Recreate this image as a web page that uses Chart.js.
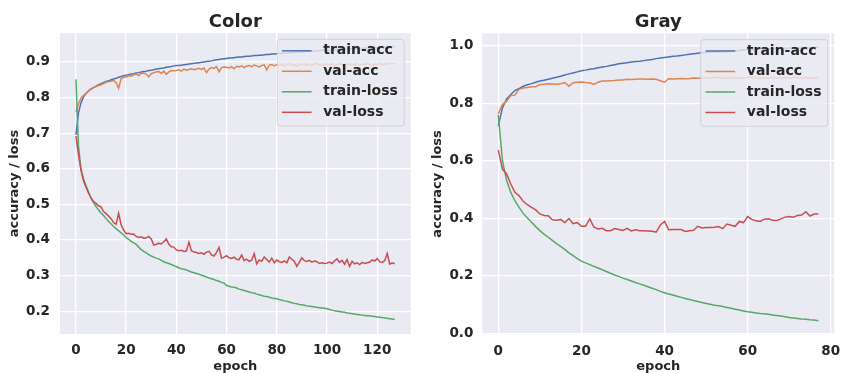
<!DOCTYPE html>
<html>
<head>
<meta charset="utf-8">
<script src="https://cdn.jsdelivr.net/npm/chart.js@4.4.1/dist/chart.umd.min.js"></script>
<style>
  body { margin: 0; background: #fff; }
  canvas { position: absolute; top: 0; }
</style>
</head>
<body>
<canvas id="colorChart" width="420" height="373" style="left:0px"></canvas>
<canvas id="grayChart" width="423" height="373" style="left:420px"></canvas>
<script>
// series names
const seriesNames = ["train-acc", "val-acc", "train-loss", "val-loss"];

// Color run, epochs 0..127
const colorTrainAcc = [
  0.695, 0.757, 0.785, 0.802, 0.811, 0.819, 0.824, 0.828, 0.832, 0.836,
  0.839, 0.842, 0.845, 0.847, 0.850, 0.852, 0.854, 0.857, 0.859, 0.861,
  0.863, 0.864, 0.866, 0.867, 0.869, 0.870, 0.872, 0.873, 0.874, 0.876,
  0.877, 0.878, 0.880, 0.881, 0.882, 0.883, 0.885, 0.886, 0.887, 0.889,
  0.890, 0.890, 0.891, 0.892, 0.893, 0.894, 0.895, 0.896, 0.897, 0.898,
  0.899, 0.900, 0.901, 0.902, 0.903, 0.905, 0.906, 0.907, 0.908, 0.909,
  0.910, 0.911, 0.911, 0.912, 0.913, 0.914, 0.914, 0.915, 0.916, 0.916,
  0.917, 0.918, 0.918, 0.919, 0.919, 0.920, 0.921, 0.921, 0.922, 0.922,
  0.923, 0.924, 0.924, 0.925, 0.925, 0.926, 0.926, 0.927, 0.927, 0.928,
  0.928, 0.929, 0.929, 0.930, 0.930, 0.931, 0.931, 0.932, 0.932, 0.933,
  0.933, 0.933, 0.934, 0.934, 0.935, 0.935, 0.935, 0.936, 0.936, 0.937,
  0.937, 0.937, 0.938, 0.938, 0.938, 0.939, 0.939, 0.939, 0.940, 0.940,
  0.940, 0.941, 0.941, 0.942, 0.942, 0.943, 0.943, 0.944
];
const colorValAcc = [
  0.760, 0.782, 0.798, 0.806, 0.812, 0.818, 0.824, 0.828, 0.831, 0.834,
  0.836, 0.839, 0.843, 0.845, 0.846, 0.848, 0.842, 0.826, 0.853, 0.857,
  0.858, 0.861, 0.860, 0.864, 0.866, 0.862, 0.868, 0.869, 0.866, 0.858,
  0.867, 0.870, 0.872, 0.873, 0.868, 0.874, 0.865, 0.872, 0.876, 0.875,
  0.876, 0.878, 0.874, 0.880, 0.877, 0.879, 0.881, 0.878, 0.880, 0.882,
  0.879, 0.883, 0.870, 0.880, 0.884, 0.882, 0.887, 0.872, 0.884, 0.886,
  0.885, 0.883, 0.887, 0.881, 0.888, 0.886, 0.889, 0.884, 0.888, 0.890,
  0.887, 0.891, 0.889, 0.886, 0.890, 0.892, 0.878, 0.891, 0.893, 0.889,
  0.893, 0.891, 0.894, 0.889, 0.892, 0.895, 0.890, 0.893, 0.888, 0.894,
  0.892, 0.895, 0.890, 0.893, 0.891, 0.894, 0.896, 0.891, 0.893, 0.890,
  0.894, 0.892, 0.895, 0.889, 0.893, 0.896, 0.891, 0.894, 0.892, 0.895,
  0.890, 0.893, 0.895, 0.891, 0.894, 0.892, 0.896, 0.893, 0.890, 0.894,
  0.893, 0.896, 0.892, 0.895, 0.893, 0.897, 0.894, 0.896
];
const colorTrainLoss = [
  0.851, 0.665, 0.600, 0.572, 0.553, 0.535, 0.518, 0.505, 0.494, 0.484,
  0.476, 0.469, 0.460, 0.452, 0.445, 0.438, 0.432, 0.426, 0.420, 0.414,
  0.407, 0.402, 0.396, 0.392, 0.388, 0.380, 0.373, 0.368, 0.364, 0.359,
  0.355, 0.352, 0.349, 0.347, 0.343, 0.339, 0.336, 0.334, 0.331, 0.328,
  0.325, 0.322, 0.319, 0.318, 0.316, 0.313, 0.310, 0.308, 0.306, 0.304,
  0.301, 0.299, 0.296, 0.293, 0.291, 0.289, 0.286, 0.284, 0.281, 0.279,
  0.272, 0.270, 0.268, 0.267, 0.265, 0.262, 0.260, 0.258, 0.256, 0.254,
  0.252, 0.251, 0.248, 0.246, 0.244, 0.242, 0.241, 0.239, 0.237, 0.236,
  0.235, 0.233, 0.231, 0.229, 0.228, 0.226, 0.224, 0.222, 0.221, 0.219,
  0.218, 0.217, 0.215, 0.214, 0.213, 0.212, 0.211, 0.210, 0.209, 0.208,
  0.207, 0.205, 0.203, 0.201, 0.200, 0.199, 0.198, 0.197, 0.195, 0.194,
  0.193, 0.192, 0.191, 0.190, 0.189, 0.188, 0.187, 0.187, 0.186, 0.185,
  0.184, 0.183, 0.182, 0.181, 0.180, 0.179, 0.178, 0.177
];
const colorValLoss = [
  0.692, 0.640, 0.596, 0.566, 0.548, 0.532, 0.518, 0.508, 0.503, 0.496,
  0.493, 0.480, 0.474, 0.467, 0.460, 0.449, 0.444, 0.475, 0.443, 0.428,
  0.418, 0.419, 0.416, 0.417, 0.410, 0.407, 0.409, 0.405, 0.406, 0.410,
  0.403, 0.386, 0.388, 0.391, 0.389, 0.395, 0.403, 0.388, 0.381, 0.380,
  0.372, 0.370, 0.371, 0.368, 0.369, 0.394, 0.370, 0.366, 0.365, 0.362,
  0.364, 0.360, 0.366, 0.368, 0.358, 0.355, 0.365, 0.379, 0.349, 0.352,
  0.356, 0.350, 0.348, 0.352, 0.346, 0.345, 0.358, 0.342, 0.346, 0.340,
  0.343, 0.362, 0.333, 0.344, 0.340, 0.352, 0.345, 0.338, 0.349, 0.336,
  0.344, 0.339, 0.337, 0.341, 0.336, 0.352, 0.346, 0.340, 0.326, 0.338,
  0.350, 0.342, 0.340, 0.343, 0.338, 0.341, 0.339, 0.334, 0.336, 0.334,
  0.335, 0.338, 0.334, 0.341, 0.347, 0.337, 0.343, 0.332, 0.345, 0.326,
  0.340, 0.333, 0.336, 0.331, 0.337, 0.334, 0.336, 0.338, 0.344, 0.341,
  0.348, 0.339, 0.337, 0.342, 0.362, 0.332, 0.336, 0.333
];

// Gray run, epochs 0..77
const grayTrainAcc = [
  0.721, 0.784, 0.815, 0.830, 0.844, 0.851, 0.859, 0.864, 0.868, 0.873,
  0.877, 0.880, 0.883, 0.887, 0.890, 0.894, 0.898, 0.902, 0.905, 0.909,
  0.913, 0.915, 0.918, 0.920, 0.923, 0.926, 0.928, 0.931, 0.934, 0.937,
  0.939, 0.941, 0.943, 0.945, 0.946, 0.948, 0.950, 0.952, 0.955, 0.957,
  0.959, 0.961, 0.963, 0.964, 0.966, 0.968, 0.970, 0.972, 0.974, 0.975,
  0.976, 0.977, 0.978, 0.978, 0.979, 0.979, 0.981, 0.982, 0.983, 0.985,
  0.986, 0.986, 0.987, 0.988, 0.988, 0.989, 0.989, 0.990, 0.990, 0.991,
  0.991, 0.992, 0.992, 0.993, 0.993, 0.994, 0.994, 0.995
];
const grayValAcc = [
  0.763, 0.796, 0.807, 0.827, 0.828, 0.848, 0.853, 0.855, 0.857, 0.857,
  0.865, 0.866, 0.868, 0.867, 0.866, 0.868, 0.872, 0.859, 0.871, 0.873,
  0.874, 0.872, 0.871, 0.865, 0.873, 0.877, 0.877, 0.878, 0.879, 0.881,
  0.881, 0.883, 0.882, 0.883, 0.884, 0.884, 0.883, 0.884, 0.883, 0.878,
  0.873, 0.885, 0.884, 0.885, 0.886, 0.885, 0.886, 0.888, 0.887, 0.888,
  0.888, 0.887, 0.889, 0.890, 0.888, 0.887, 0.889, 0.888, 0.887, 0.888,
  0.889, 0.891, 0.888, 0.886, 0.889, 0.887, 0.890, 0.888, 0.887, 0.889,
  0.888, 0.890, 0.889, 0.887, 0.889, 0.888, 0.887, 0.890
];
const grayTrainLoss = [
  0.759, 0.600, 0.531, 0.490, 0.461, 0.438, 0.417, 0.401, 0.386, 0.371,
  0.357, 0.345, 0.334, 0.323, 0.312, 0.302, 0.292, 0.280, 0.270, 0.260,
  0.251, 0.245, 0.239, 0.233, 0.227, 0.221, 0.215, 0.209, 0.203, 0.198,
  0.192, 0.187, 0.182, 0.177, 0.172, 0.167, 0.162, 0.157, 0.152, 0.146,
  0.141, 0.137, 0.133, 0.129, 0.125, 0.121, 0.118, 0.114, 0.111, 0.107,
  0.104, 0.101, 0.098, 0.096, 0.093, 0.090, 0.087, 0.084, 0.081, 0.078,
  0.075, 0.073, 0.071, 0.069, 0.068, 0.066, 0.064, 0.062, 0.060, 0.058,
  0.055, 0.053, 0.052, 0.050, 0.049, 0.047, 0.046, 0.044
];
const grayValLoss = [
  0.637, 0.571, 0.554, 0.519, 0.490, 0.478, 0.459, 0.447, 0.438, 0.429,
  0.415, 0.410, 0.409, 0.395, 0.393, 0.396, 0.385, 0.399, 0.381, 0.385,
  0.372, 0.372, 0.398, 0.369, 0.363, 0.365, 0.357, 0.357, 0.364, 0.361,
  0.358, 0.365, 0.356, 0.360, 0.357, 0.357, 0.356, 0.355, 0.352, 0.377,
  0.389, 0.360, 0.361, 0.361, 0.361, 0.354, 0.357, 0.358, 0.372, 0.366,
  0.368, 0.368, 0.369, 0.371, 0.364, 0.380, 0.376, 0.372, 0.389, 0.385,
  0.406, 0.396, 0.391, 0.389, 0.397, 0.398, 0.393, 0.392, 0.398, 0.404,
  0.406, 0.404, 0.410, 0.411, 0.423, 0.408, 0.415, 0.415
];

// tick labels
const colorXTicks = [0, 20, 40, 60, 80, 100, 120];
const colorYTicks = [0.2, 0.3, 0.4, 0.5, 0.6, 0.7, 0.8, 0.9];
const grayXTicks = [0, 20, 40, 60, 80];
const grayYTicks = [0.0, 0.2, 0.4, 0.6, 0.8, 1.0];

const TEXT = "#262626";
const COLORS = ["#4C72B0", "#DD8452", "#55A868", "#C44E52"];
Chart.defaults.font.family = '"DejaVu Sans", sans-serif';
Chart.defaults.color = TEXT;

// grey plot background like seaborn darkgrid
const plotBackground = {
  id: "plotBackground",
  beforeDraw(chart) {
    const { ctx, chartArea: a } = chart;
    ctx.save();
    ctx.fillStyle = "#EAEAF2";
    ctx.fillRect(a.left, a.top, a.right - a.left, a.bottom - a.top);
    ctx.restore();
  }
};

// legend drawn on top of the lines, upper right inside plot
const legendBox = {
  id: "legendBox",
  afterDatasetsDraw(chart) {
    const { ctx, chartArea: a } = chart;
    const items = chart.data.datasets;
    ctx.save();
    ctx.font = 'bold 14px "DejaVu Sans"';
    const textW = Math.max(...items.map(d => ctx.measureText(d.label).width));
    const w = 46 + textW + 6.3, h = 86.7;
    const x = a.right - 6.5 - w, y = a.top + 6.3;
    ctx.beginPath();
    ctx.roundRect(x, y, w, h, 3);
    ctx.fillStyle = "rgba(234,234,242,0.8)";
    ctx.fill();
    ctx.strokeStyle = "rgba(204,204,204,0.8)";
    ctx.lineWidth = 1;
    ctx.stroke();
    items.forEach((d, i) => {
      const ry = y + 11.4 + i * 20.5;
      ctx.strokeStyle = d.borderColor;
      ctx.lineWidth = 1.5;
      ctx.beginPath();
      ctx.moveTo(x + 4.7, ry);
      ctx.lineTo(x + 34.4, ry);
      ctx.stroke();
      ctx.fillStyle = TEXT;
      ctx.textBaseline = "middle";
      ctx.textAlign = "left";
      ctx.fillText(d.label, x + 46, ry);
    });
    ctx.restore();
  }
};

function makeDatasets(series) {
  return series.map((vals, i) => ({
    label: seriesNames[i],
    data: vals.map((v, e) => ({ x: e, y: v })),
    borderColor: COLORS[i],
    borderWidth: 1.5,
    pointRadius: 0,
    tension: 0,
    order: series.length - i
  }));
}

function makeChart(id, series, cfg) {
  new Chart(document.getElementById(id), {
    type: "line",
    data: { datasets: makeDatasets(series) },
    plugins: [plotBackground, legendBox],
    options: {
      responsive: false,
      animation: false,
      devicePixelRatio: 1,
      layout: { padding: { left: 0, top: 0, right: cfg.padRight, bottom: 0 } },
      plugins: {
        legend: { display: false },
        tooltip: { enabled: false },
        title: {
          display: true, text: cfg.title, fullSize: false, color: TEXT,
          font: { size: 18, weight: "bold", lineHeight: 1.2 },
          padding: { top: cfg.titleTop, bottom: 0 }
        }
      },
      scales: {
        x: {
          type: "linear", min: cfg.xMin, max: cfg.xMax,
          afterBuildTicks: s => { s.ticks = cfg.xTicks.map(v => ({ value: v })); },
          afterFit: s => { s.height = 373 - cfg.bottom; s.paddingLeft = 0; s.paddingRight = 0; },
          grid: { color: "#ffffff", lineWidth: 1.3, drawTicks: false },
          border: { display: false },
          ticks: { padding: 8.6, color: TEXT, font: { size: 13.5, weight: "bold" }, callback: v => String(v) },
          title: { display: true, text: "epoch", color: TEXT, padding: { top: 0, bottom: 0 },
                   font: { size: 13, weight: "bold", lineHeight: 1 } }
        },
        y: {
          min: cfg.yMin, max: cfg.yMax,
          afterBuildTicks: s => { s.ticks = cfg.yTicks.map(v => ({ value: v })); },
          afterFit: s => { s.width = cfg.yWidth; s.paddingTop = 0; s.paddingBottom = 0; },
          grid: { color: "#ffffff", lineWidth: 1.3, drawTicks: false },
          border: { display: false },
          ticks: { padding: cfg.yTickPad, color: TEXT, font: { size: 13.5, weight: "bold" }, callback: v => v.toFixed(1) },
          title: { display: true, text: "accuracy / loss", color: TEXT, padding: { top: cfg.yTitlePad, bottom: 0 },
                   font: { size: 13, weight: "bold", lineHeight: 1 } }
        }
      }
    }
  });
}

makeChart("colorChart", [colorTrainAcc, colorValAcc, colorTrainLoss, colorValLoss], {
  title: "Color", titleTop: 11.5, padRight: 9.3, bottom: 334, yWidth: 60,
  xMin: -6.35, xMax: 133.35, xTicks: colorXTicks,
  yMin: 0.136, yMax: 0.981, yTicks: colorYTicks, yTickPad: 10, yTitlePad: 8.2
});
makeChart("grayChart", [grayTrainAcc, grayValAcc, grayTrainLoss, grayValLoss], {
  title: "Gray", titleTop: 11.7, padRight: 8.7, bottom: 334.5, yWidth: 62.3,
  xMin: -3.85, xMax: 80.85, xTicks: grayXTicks,
  yMin: -0.004, yMax: 1.043, yTicks: grayYTicks, yTickPad: 9, yTitlePad: 11.5
});
</script>
</body>
</html>
